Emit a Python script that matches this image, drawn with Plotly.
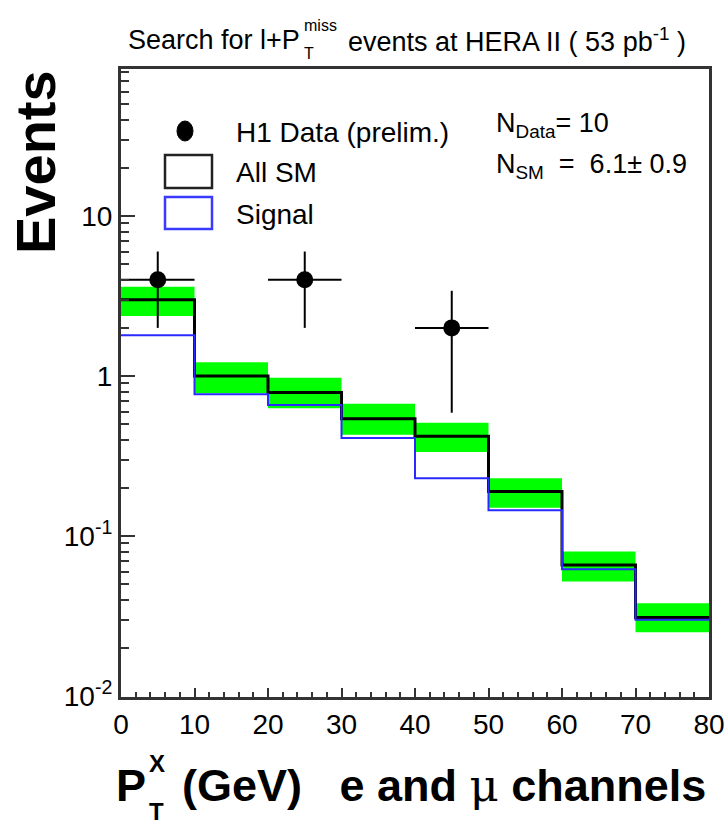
import plotly.graph_objects as go

# Bin edges of the P_T^X histogram (GeV)
bin_edges = [0, 10, 20, 30, 40, 50, 60, 70, 80]

# Standard Model expectation per bin, with its uncertainty band
sm_expect = [3.0, 1.0, 0.79, 0.54, 0.42, 0.19, 0.066, 0.031]
sm_band_lo = [2.37, 0.78, 0.63, 0.43, 0.335, 0.15, 0.052, 0.025]
sm_band_hi = [3.61, 1.22, 0.976, 0.67, 0.51, 0.23, 0.080, 0.038]

# Signal (W production) contribution per bin
signal = [1.80, 0.77, 0.66, 0.41, 0.23, 0.145, 0.062, 0.030]

# H1 data (preliminary)
data_x = [5, 25, 45]
data_y = [4, 4, 2]
data_err_up = [2.0, 2.0, 1.41]
data_err_dn = [2.0, 2.0, 1.41]
data_xerr = [5, 5, 5]

FONT = "Liberation Sans, Arial, sans-serif"

# plot area in pixels
W, H = 727, 826
L, R, T, B = 121, 709, 69, 697


def px(x):
    return (x - L) / (R - L)


def py(y):
    return (B - y) / (B - T)


fig = go.Figure()

# uncertainty band as one filled trace, one rectangle per bin
bx, by = [], []
for i in range(len(sm_expect)):
    x0, x1 = bin_edges[i], bin_edges[i + 1]
    bx += [x0, x1, x1, x0, x0, None]
    by += [sm_band_lo[i], sm_band_lo[i], sm_band_hi[i], sm_band_hi[i], sm_band_lo[i], None]
fig.add_trace(go.Scatter(x=bx, y=by, mode="lines", fill="toself",
                         fillcolor="#00ff00", line=dict(width=0, color="#00ff00"),
                         hoverinfo="skip", showlegend=False))

# SM step histogram
fig.add_trace(go.Scatter(x=bin_edges, y=sm_expect + [sm_expect[-1]], mode="lines",
                         line=dict(color="black", width=3, shape="hv"), showlegend=False))

# signal step histogram
fig.add_trace(go.Scatter(x=bin_edges, y=signal + [signal[-1]], mode="lines",
                         line=dict(color="#2a2aff", width=2, shape="hv"), showlegend=False))

# data points with errors
fig.add_trace(go.Scatter(
    x=data_x, y=data_y, mode="markers",
    marker=dict(color="black", size=17, symbol="circle"),
    error_x=dict(type="data", array=data_xerr, color="black", thickness=2, width=0),
    error_y=dict(type="data", array=data_err_up, arrayminus=data_err_dn,
                 symmetric=False, color="black", thickness=2, width=0),
    showlegend=False))

minor_y = [k * 10 ** e for e in (-2, -1, 0, 1) for k in range(2, 10) if k * 10 ** e < 85]

fig.update_layout(
    width=W, height=H,
    margin=dict(l=L, r=W - R, t=T, b=H - B, autoexpand=False),
    paper_bgcolor="white", plot_bgcolor="white",
    showlegend=False,
    xaxis=dict(range=[0, 80.0001], tickvals=list(range(0, 81, 10)),
               ticks="inside", ticklen=9, tickwidth=1.5, tickcolor="#333",
               minor=dict(ticks="inside", dtick=2, ticklen=5, tickcolor="#333"),
               showline=True, linewidth=3, linecolor="#333", mirror=True,
               showgrid=False, zeroline=False, automargin=False,
               ticklabeloverflow="allow",
               tickfont=dict(family=FONT, size=28, color="black")),
    yaxis=dict(type="log", range=[-2.006, 1.919],
               tickvals=[0.01, 0.1, 1, 10],
               ticktext=["10<sup>-2</sup>", "10<sup>-1</sup>", "1", "10"],
               ticks="inside", ticklen=14, tickwidth=1.5, tickcolor="#333",
               minor=dict(ticks="inside", tickmode="array", tickvals=minor_y,
                          ticklen=8, tickcolor="#333"),
               showline=True, linewidth=3, linecolor="#333", mirror=True,
               showgrid=False, zeroline=False, automargin=False,
               tickfont=dict(family=FONT, size=28, color="black")),
)

ann = []
# title pieces
ann.append(dict(text="Search for l+P", x=px(302), y=py(40), xanchor="right", yanchor="middle",
                font=dict(family=FONT, size=27, color="black")))
ann.append(dict(text="miss", x=px(302), y=py(25), xanchor="left", yanchor="middle",
                font=dict(family=FONT, size=16, color="black")))
ann.append(dict(text="T", x=px(302), y=py(53), xanchor="left", yanchor="middle",
                font=dict(family=FONT, size=16, color="black")))
ann.append(dict(text="events at HERA II ( 53 pb<sup>-1</sup> )", x=px(688), y=py(40),
                xanchor="right", yanchor="middle",
                font=dict(family=FONT, size=27, color="black")))

# y-axis title
ann.append(dict(text="<b>Events</b>", x=px(36), y=py(68), xanchor="center", yanchor="top",
                textangle=-90, font=dict(family=FONT, size=56, color="black")))

# x-axis title
ann.append(dict(text="<b>P</b>", x=px(114), y=py(785), xanchor="left", yanchor="middle",
                font=dict(family=FONT, size=45, color="black")))
ann.append(dict(text="<b>X</b>", x=px(147), y=py(763), xanchor="left", yanchor="middle",
                font=dict(family=FONT, size=24, color="black")))
ann.append(dict(text="<b>T</b>", x=px(147), y=py(811), xanchor="left", yanchor="middle",
                font=dict(family=FONT, size=24, color="black")))
ann.append(dict(text="<b>(GeV)   e and </b><span style='font-family:DejaVu Serif;font-weight:normal'>μ</span><b> channels</b>",
                x=px(708), y=py(785), xanchor="right", yanchor="middle",
                font=dict(family=FONT, size=45, color="black")))

# legend texts
for label, yc in [("H1 Data (prelim.)", 132), ("All SM", 173), ("Signal", 214)]:
    ann.append(dict(text=label, x=px(234), y=py(yc), xanchor="left", yanchor="middle",
                    font=dict(family=FONT, size=28, color="black")))

# event counts
ann.append(dict(text="N<sub>Data</sub>= 10", x=px(494), y=py(125), xanchor="left", yanchor="middle",
                font=dict(family=FONT, size=27, color="black")))
ann.append(dict(text="N<sub>SM</sub>  =  6.1± 0.9", x=px(494), y=py(166), xanchor="left", yanchor="middle",
                font=dict(family=FONT, size=27, color="black")))

for a in ann:
    a.update(xref="paper", yref="paper", showarrow=False)
fig.update_layout(annotations=ann)

# legend symbols
shapes = [
    dict(type="circle", xref="paper", yref="paper",
         x0=px(177), x1=px(193), y0=py(141), y1=py(121),
         fillcolor="black", line=dict(color="black", width=1)),
    dict(type="rect", xref="paper", yref="paper",
         x0=px(165), x1=px(212), y0=py(188), y1=py(155),
         fillcolor="white", line=dict(color="#222", width=2.5)),
    dict(type="rect", xref="paper", yref="paper",
         x0=px(165), x1=px(212), y0=py(229), y1=py(197),
         fillcolor="white", line=dict(color="#3a3aff", width=2.5)),
]
fig.update_layout(shapes=shapes)

fig.write_html("out.html")
